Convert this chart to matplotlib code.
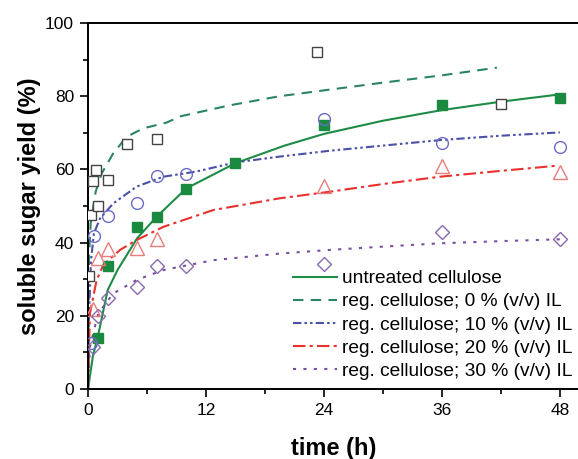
import numpy as np
import matplotlib.pyplot as plt
from matplotlib.ticker import MultipleLocator

plt.rcParams['font.family'] = ['Liberation Sans', 'DejaVu Sans']

# measured points
t_untreated = [1, 2, 5, 7, 10, 15, 24, 36, 48]
y_untreated = [14.0, 33.7, 44.3, 46.9, 54.6, 61.7, 72.1, 77.5, 79.6]

t_il0 = [0.15, 0.3, 0.5, 0.85, 1, 2, 4, 7, 23.3, 42]
y_il0 = [31.0, 47.6, 56.7, 59.8, 50.0, 57.1, 67.0, 68.4, 92.1, 78.0]

t_il10 = [0.35, 0.6, 2, 5, 7, 10, 24, 36, 48]
y_il10 = [12.5, 41.9, 47.4, 50.7, 58.2, 58.7, 73.8, 67.3, 66.1]

t_il20 = [0.5, 1, 2, 5, 7, 24, 36, 48]
y_il20 = [21.8, 35.8, 38.3, 38.4, 40.9, 55.5, 61.0, 59.4]

t_il30 = [0.5, 1, 2, 5, 7, 10, 24, 36, 48]
y_il30 = [11.4, 19.9, 24.8, 28.0, 33.6, 33.7, 34.1, 42.8, 40.9]

# fitted curves
tf_untreated = [0, 0.5, 1, 2, 3, 5, 7, 10, 15, 20, 24, 30, 36, 42, 48]
yf_untreated = [0, 9, 14.3, 27, 32.5, 41.2, 47.1, 54.8, 61.7, 66.5, 69.7, 73.3, 76.2, 78.5, 80.5]

tf_il0 = [0, 0.1, 0.27, 0.78, 1.39, 2.57, 3.93, 5.6, 8, 9.4, 14.4, 19.5, 24.6, 30, 36, 41.6]
yf_il0 = [0, 36.1, 45.3, 53.9, 58.9, 64.4, 68.9, 71.2, 72.8, 74.5, 77.5, 80.0, 81.8, 83.7, 85.7, 87.8]

tf_il10 = [0, 0.1, 0.3, 0.6, 1.22, 2.57, 4.95, 7.66, 11, 15, 19.5, 24.6, 30, 35.8, 42, 48]
yf_il10 = [0, 20, 35, 42.5, 46.6, 50.7, 55.3, 58.0, 59.4, 61.9, 63.5, 65.1, 66.5, 68.0, 69.2, 70.1]

tf_il20 = [0, 0.2, 0.88, 1.56, 3.26, 4.95, 7.66, 12.75, 19.5, 24.6, 30, 35.8, 42, 47.7]
yf_il20 = [0, 20.7, 29.8, 33.9, 38.0, 40.7, 44.3, 48.9, 52.1, 53.9, 56.0, 58.0, 59.6, 61.0]

tf_il30 = [0, 0.2, 1.05, 2.57, 4.95, 7.66, 12.75, 19.5, 24.6, 30, 35.8, 42, 48]
yf_il30 = [0, 11.6, 20.7, 26.1, 29.8, 32.5, 35.2, 37.0, 38.0, 38.9, 39.8, 40.4, 40.9]

labels = ['untreated cellulose',
          'reg. cellulose; 0 % (v/v) IL',
          'reg. cellulose; 10 % (v/v) IL',
          'reg. cellulose; 20 % (v/v) IL',
          'reg. cellulose; 30 % (v/v) IL']

fig = plt.figure(figsize=(5.78, 4.59), dpi=100)
ax = fig.add_axes([88 / 578, 70 / 459, 491.5 / 578, 366 / 459])

lw = 1.5
l1, = ax.plot(tf_untreated, yf_untreated, color='#1e8c46', lw=lw, ls='-')
l2, = ax.plot(tf_il0, yf_il0, color='#2b8463', lw=lw, ls=(0, (5, 3.5)))
l3, = ax.plot(tf_il10, yf_il10, color='#4a50a6', lw=lw, ls=(0, (4, 1.5, 1.2, 1.5, 1.2, 1.5)))
l4, = ax.plot(tf_il20, yf_il20, color='#e8312c', lw=lw, ls=(0, (6, 2, 1.5, 2)))
l5, = ax.plot(tf_il30, yf_il30, color='#7b4e9f', lw=lw, ls=(0, (1.5, 3.5)))

ax.plot(t_untreated, y_untreated, 's', ms=7, color='#1a8a40', mec='#1a8a40', zorder=3)
ax.plot(t_il0, y_il0, 's', ms=7, mfc='white', mec='#444444', mew=1.0, zorder=3)
ax.plot(t_il10, y_il10, 'o', ms=8.5, mfc='none', mec='#6a6cc4', mew=1.0, zorder=3)
ax.plot(t_il20, y_il20, '^', ms=10, mfc='none', mec='#e87c7a', mew=1.0, zorder=3)
ax.plot(t_il30, y_il30, 'D', ms=7.5, mfc='none', mec='#8a6aae', mew=1.0, zorder=3)

ax.set_xlim(0, 50)
ax.set_ylim(0, 100)
ax.xaxis.set_major_locator(MultipleLocator(12))
ax.xaxis.set_minor_locator(MultipleLocator(6))
ax.yaxis.set_major_locator(MultipleLocator(20))
ax.yaxis.set_minor_locator(MultipleLocator(10))
ax.tick_params(which='major', direction='out', length=6, width=1.2, labelsize=12.5, pad=4)
ax.tick_params(which='minor', direction='out', length=3.5, width=1.2)
for s in ax.spines.values():
    s.set_linewidth(1.4)
ax.spines['right'].set_visible(False)

ax.set_xlabel('time (h)', fontsize=17, fontweight='bold', labelpad=14)
ax.set_ylabel('soluble sugar yield (%)', fontsize=17, fontweight='bold', labelpad=3)

ax.legend([l1, l2, l3, l4, l5], labels, loc='lower right', frameon=False,
          fontsize=13.8, handlelength=2.3, handletextpad=0.26, labelspacing=0.3,
          bbox_to_anchor=(572 / 578, 79 / 459), bbox_transform=fig.transFigure,
          borderaxespad=0, borderpad=0)

fig.savefig('out.png', dpi=100)
